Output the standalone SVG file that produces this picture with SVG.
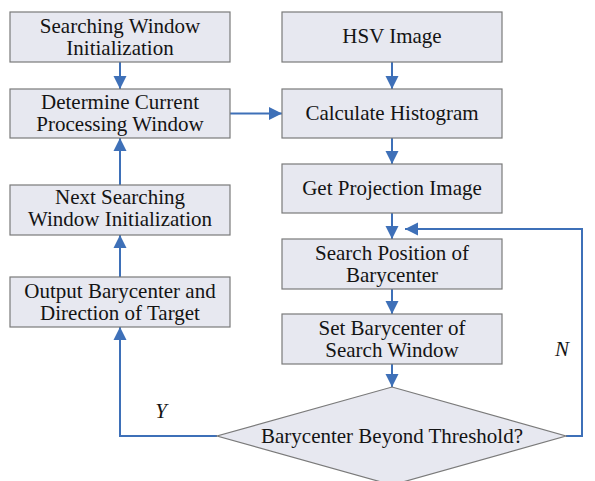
<svg xmlns="http://www.w3.org/2000/svg" width="595" height="481" viewBox="0 0 595 481">
<style>
.box{fill:#e7e8f0;stroke:#7a7a7a;stroke-width:1.2}
.t{font-family:"Liberation Serif","Tinos","Times New Roman","DejaVu Serif",serif;font-size:21px;fill:#141414;text-anchor:middle}
.it{font-family:"Liberation Serif","Tinos","Times New Roman","DejaVu Serif",serif;font-size:21px;font-style:italic;fill:#141414;text-anchor:middle}
.c{fill:none;stroke:#3e70b8;stroke-width:2}
</style>
<defs>
<marker id="ah" markerUnits="userSpaceOnUse" markerWidth="14" markerHeight="14" viewBox="0 0 14 14" refX="13" refY="7" orient="auto">
<path d="M0,0.5 L13,7 L0,13.5 Z" fill="#3e70b8"/>
</marker>
</defs>
<rect width="595" height="481" fill="#ffffff"/>
<g id="connectors">
<line class="c" x1="120" y1="62" x2="120" y2="89" marker-end="url(#ah)"/>
<line class="c" x1="120" y1="185" x2="120" y2="138" marker-end="url(#ah)"/>
<line class="c" x1="120" y1="277" x2="120" y2="235" marker-end="url(#ah)"/>
<line class="c" x1="230" y1="113.5" x2="282" y2="113.5" marker-end="url(#ah)"/>
<line class="c" x1="392" y1="62" x2="392" y2="89" marker-end="url(#ah)"/>
<line class="c" x1="392" y1="138" x2="392" y2="164" marker-end="url(#ah)"/>
<line class="c" x1="392" y1="213" x2="392" y2="239" marker-end="url(#ah)"/>
<line class="c" x1="392" y1="289" x2="392" y2="314" marker-end="url(#ah)"/>
<line class="c" x1="392" y1="364" x2="392" y2="387" marker-end="url(#ah)"/>
<polyline class="c" points="217,436 120,436 120,327" marker-end="url(#ah)"/>
<polyline class="c" points="566,436 582,436 582,229 405,229" marker-end="url(#ah)"/>
</g>
<g id="n1"><rect class="box" x="10" y="12" width="220" height="50"/><text class="t" x="120" y="32.5">Searching Window</text><text class="t" x="120" y="54.5">Initialization</text></g>
<g id="n2"><rect class="box" x="10" y="89" width="220" height="49"/><text class="t" x="120" y="108.5">Determine Current</text><text class="t" x="120" y="130.5">Processing Window</text></g>
<g id="n3"><rect class="box" x="10" y="185" width="220" height="50"/><text class="t" x="120" y="204">Next Searching</text><text class="t" x="120" y="226">Window Initialization</text></g>
<g id="n4"><rect class="box" x="10" y="277" width="220" height="50"/><text class="t" x="120" y="297.5">Output Barycenter and</text><text class="t" x="120" y="319.5">Direction of Target</text></g>
<g id="n5"><rect class="box" x="282" y="12" width="220" height="50"/><text class="t" x="392" y="43">HSV Image</text></g>
<g id="n6"><rect class="box" x="282" y="89" width="220" height="49"/><text class="t" x="392" y="119.5">Calculate Histogram</text></g>
<g id="n7"><rect class="box" x="282" y="164" width="220" height="49"/><text class="t" x="392" y="194.5">Get Projection Image</text></g>
<g id="n8"><rect class="box" x="282" y="239" width="220" height="50"/><text class="t" x="392" y="259.5">Search Position of</text><text class="t" x="392" y="281.5">Barycenter</text></g>
<g id="n9"><rect class="box" x="282" y="314" width="220" height="50"/><text class="t" x="392" y="334.5">Set Barycenter of</text><text class="t" x="392" y="356.5">Search Window</text></g>
<g id="n10"><polygon class="box" points="392,387 566,436 392,485 217,436"/><text class="t" x="392" y="443">Barycenter Beyond Threshold?</text></g>
<g id="labels"><text class="it" x="161" y="418">Y</text><text class="it" x="562" y="356">N</text></g>
</svg>
